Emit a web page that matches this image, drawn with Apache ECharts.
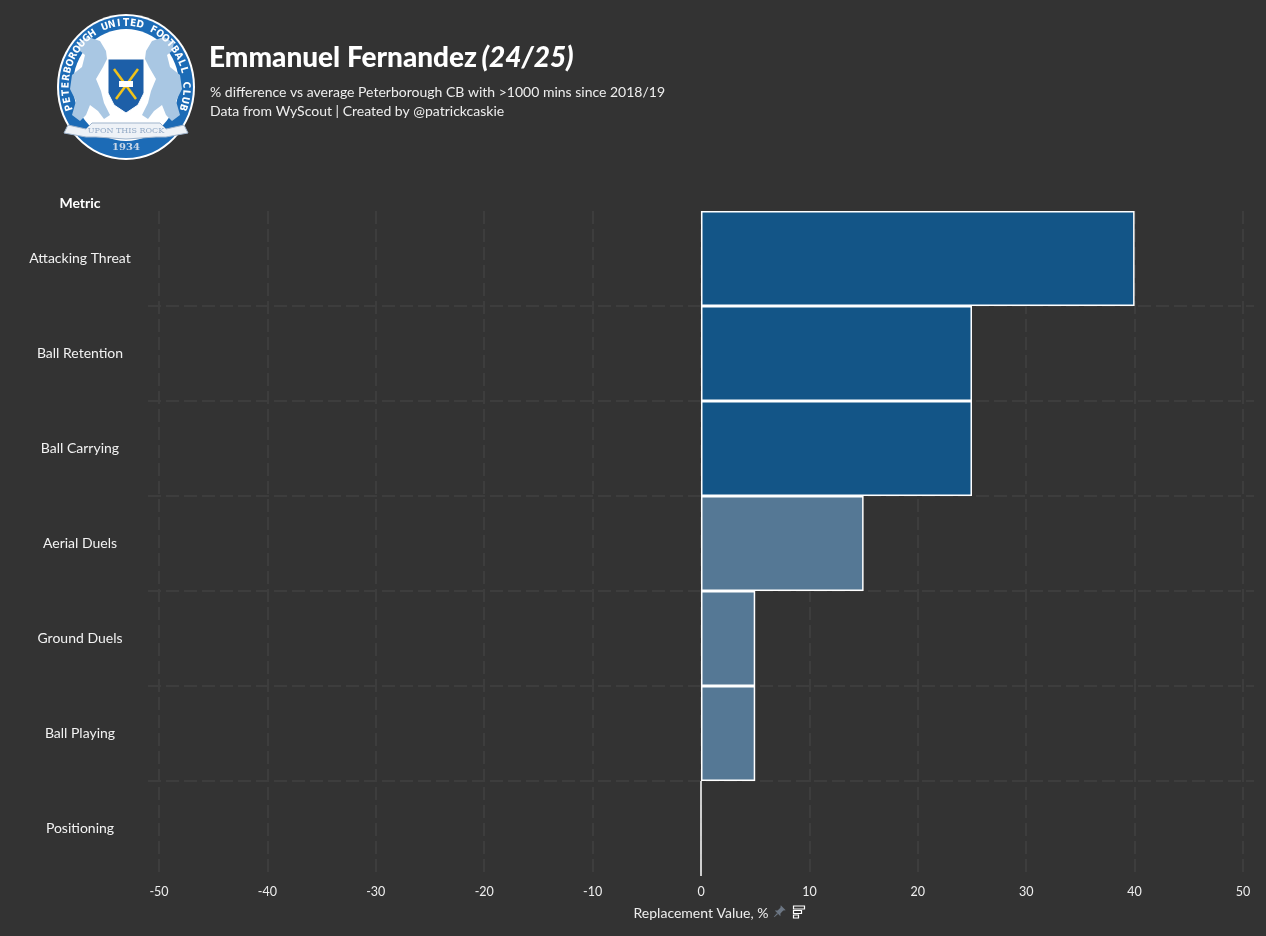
<!DOCTYPE html>
<html><head><meta charset="utf-8">
<script src="https://cdn.jsdelivr.net/npm/echarts@6/dist/echarts.min.js"></script>
<style>html,body{margin:0;padding:0;background:#333333;}#chart{width:1266px;height:936px;}</style>
</head><body><div id="chart"></div>
<script>
// ---- data ----
const categories = ['Attacking Threat','Ball Retention','Ball Carrying','Aerial Duels','Ground Duels','Ball Playing','Positioning'];
const values = [40, 25, 25, 15, 5, 5, 0];
const tiers = ['high','high','high','mid','mid','mid','low'];
const xMin = -50, xMax = 50, xStep = 10;
const titleText = 'Emmanuel Fernandez';
const seasonText = '(24/25)';
const subtitleLines = ['% difference vs average Peterborough CB with >1000 mins since 2018/19', 'Data from WyScout | Created by @patrickcaskie'];
const yAxisTitle = 'Metric';
const xAxisTitle = 'Replacement Value, %';
const crestRingText = 'PETERBOROUGH UNITED FOOTBALL CLUB';
const crestMotto = 'UPON THIS ROCK';
const crestYear = '1934';

// ---- styles ----
const FONT = 'Lato';
const tierColors = { high: '#135587', mid: '#557895', low: '#557895' };
const gridLine = { color: '#3d3d3d', width: 2, type: [13, 5] };

// ---- crest (decoration) ----
function crest(cx, cy) {
  const ch = [];
  ch.push({ type: 'ellipse', shape: { cx: 0, cy: 0, rx: 69, ry: 73 }, style: { fill: '#ffffff' } });
  ch.push({ type: 'ellipse', shape: { cx: 0, cy: 0, rx: 67, ry: 71 }, style: { fill: '#1c6bb6' } });
  ch.push({ type: 'ellipse', shape: { cx: 0, cy: -2, rx: 53, ry: 56 }, style: { fill: '#ffffff' } });
  // lions
  const lion = function (s) {
    return { type: 'polygon', shape: { points: [
      [s*20,-36],[s*26,-46],[s*38,-50],[s*48,-44],[s*46,-36],[s*41,-32],[s*44,-20],[s*54,-12],[s*56,2],[s*50,14],
      [s*54,28],[s*46,34],[s*40,28],[s*36,18],[s*28,24],[s*22,32],[s*16,28],[s*22,16],[s*25,4],[s*30,-8],[s*23,-20],[s*19,-28]
    ] }, style: { fill: '#a9c7e3' } };
  };
  ch.push(lion(-1)); ch.push(lion(1));
  // shield
  ch.push({ type: 'polygon', shape: { points: [[-18,-28],[18,-28],[18,6],[12,18],[0,26],[-12,18],[-18,6]] }, style: { fill: '#1d5fa8', stroke: '#ffffff', lineWidth: 1 } });
  ch.push({ type: 'line', shape: { x1: -12, y1: -18, x2: 10, y2: 12 }, style: { stroke: '#f2c31b', lineWidth: 2.5 } });
  ch.push({ type: 'line', shape: { x1: 12, y1: -18, x2: -10, y2: 12 }, style: { stroke: '#f2c31b', lineWidth: 2.5 } });
  ch.push({ type: 'rect', shape: { x: -7, y: -6, width: 14, height: 6 }, style: { fill: '#ffffff' } });
  // scroll
  ch.push({ type: 'polygon', shape: { points: [[-58,38],[-40,42],[-34,36],[34,36],[40,42],[58,38],[62,46],[40,50],[30,50],[0,52],[-30,50],[-40,50],[-62,46]] }, style: { fill: '#eef2f7', stroke: '#9fb4cc', lineWidth: 1 } });
  ch.push({ type: 'text', x: 0, y: 44, style: { text: crestMotto, fill: '#93aac6', font: '8px "DejaVu Serif"', align: 'center', verticalAlign: 'middle' } });
  ch.push({ type: 'text', x: 0, y: 60, style: { text: crestYear, fill: '#c9d7e7', font: 'bold 10px "DejaVu Serif"', align: 'center', verticalAlign: 'middle' } });
  // ring text
  const n = crestRingText.length;
  const a0 = 202, a1 = -22;
  for (let i = 0; i < n; i++) {
    const th = (a0 + (a1 - a0) * (i + 0.5) / n) * Math.PI / 180;
    ch.push({ type: 'text', x: 60 * Math.cos(th), y: -64 * Math.sin(th), rotation: th - Math.PI / 2,
      style: { text: crestRingText[i], fill: '#ffffff', font: 'bold 10px "DejaVu Sans Condensed", "DejaVu Sans"', align: 'center', verticalAlign: 'middle' } });
  }
  return { type: 'group', x: cx, y: cy, children: ch };
}

const barData = values.map(function (v, i) {
  return { value: v, itemStyle: { color: tierColors[tiers[i]] } };
});

const chart = echarts.init(document.getElementById('chart'), null, { renderer: 'canvas' });
chart.setOption({
  backgroundColor: '#333333',
  animation: false,
  textStyle: { fontFamily: FONT },
  title: [
    { text: '{a|' + titleText + '} {b|' + seasonText + '}', left: 209, top: 44, padding: 0,
      textStyle: { rich: {
        a: { fontFamily: FONT, fontSize: 28, fontWeight: 900, color: '#ffffff' },
        b: { fontFamily: FONT, fontSize: 28, fontWeight: 900, fontStyle: 'italic', color: '#ffffff' } } } },
    { text: subtitleLines.join('\n'), left: 210, top: 83, padding: 0,
      textStyle: { fontFamily: FONT, fontSize: 14, fontWeight: 'normal', color: '#eeeeee', lineHeight: 19 } }
  ],
  grid: [
    { left: 159, right: 23, top: 211, bottom: 60, containLabel: false },
    { left: 148, right: 12, top: 211, bottom: 60, containLabel: false }
  ],
  xAxis: [
    { type: 'value', gridIndex: 0, min: xMin, max: xMax, interval: xStep,
      axisLine: { show: false }, axisTick: { show: false },
      axisLabel: { color: '#eeeeee', fontSize: 12.5, margin: 9, fontFamily: FONT },
      splitLine: { show: true, lineStyle: gridLine },
      name: xAxisTitle, nameLocation: 'middle', nameGap: 30,
      nameTextStyle: { color: '#eeeeee', fontSize: 14, fontFamily: FONT } },
    { type: 'value', gridIndex: 1, min: 0, max: 1, show: false }
  ],
  yAxis: [
    { type: 'category', gridIndex: 0, data: categories, inverse: true,
      axisLine: { show: false }, axisTick: { show: false }, splitLine: { show: false },
      axisLabel: { align: 'center', margin: 79, color: '#f2f2f2', fontSize: 14, fontFamily: FONT } },
    { type: 'category', gridIndex: 1, data: categories, inverse: true,
      axisLine: { show: false }, axisTick: { show: false }, axisLabel: { show: false },
      splitLine: { show: true, showMinLine: false, showMaxLine: false, lineStyle: gridLine } }
  ],
  series: [{
    type: 'bar', xAxisIndex: 0, yAxisIndex: 0, data: barData,
    barCategoryGap: '0%', barGap: '0%',
    itemStyle: { borderColor: '#ffffff', borderWidth: 1.5 },
    z: 3
  }],
  graphic: [
    crest(126, 87),
    { type: 'text', x: 80, y: 203, style: { text: yAxisTitle, fill: '#ffffff', font: 'bold 14px ' + FONT, align: 'center', verticalAlign: 'middle' } },
    { type: 'group', x: 779, y: 912, rotation: -Math.PI / 4, children: [
      { type: 'polygon', shape: { points: [[-3.5,-6],[3.5,-6],[2,-4],[2,0],[4,2],[-4,2],[-2,0],[-2,-4]] }, style: { fill: '#6c7683' } },
      { type: 'polygon', shape: { points: [[-0.7,2],[0.7,2],[0.3,7],[-0.3,7]] }, style: { fill: '#6c7683' } }
    ] },
    { type: 'rect', shape: { x: 793.5, y: 906, width: 11, height: 3 }, style: { fill: 'none', stroke: '#ffffff', lineWidth: 1.2 } },
    { type: 'rect', shape: { x: 793.5, y: 910.5, width: 8, height: 3 }, style: { fill: 'none', stroke: '#ffffff', lineWidth: 1.2 } },
    { type: 'rect', shape: { x: 793.5, y: 915, width: 5, height: 3 }, style: { fill: 'none', stroke: '#ffffff', lineWidth: 1.2 } }
  ]
});
</script>
</body></html>
